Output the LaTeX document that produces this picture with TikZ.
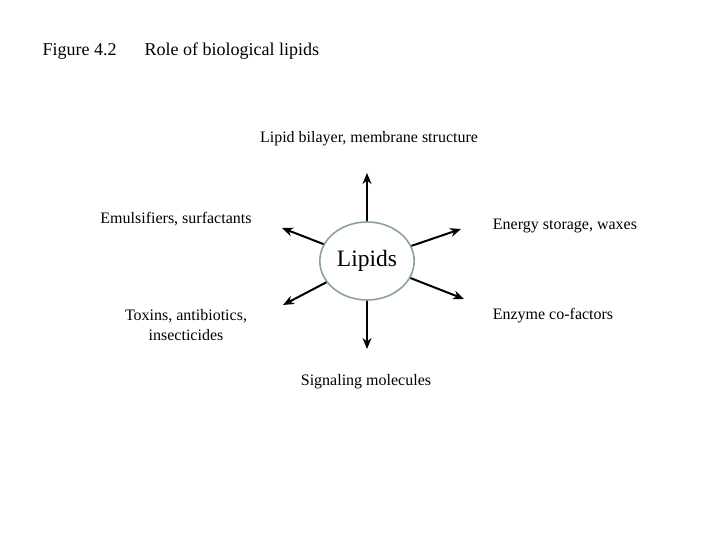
\documentclass[tikz,border=0pt]{standalone}
\usepackage{fontspec}
\setmainfont{Liberation Serif}
\usepackage{tikz}
\usetikzlibrary{shapes.geometric, arrows.meta}
\definecolor{rimgray}{RGB}{140,160,160}

\begin{document}
\begin{tikzpicture}[x=1pt, y=-1pt, every node/.style={font=\fontsize{16}{20}\selectfont}]
    \useasboundingbox (0,0) rectangle (720,540);
    % Title
    \node[anchor=west, font=\fontsize{18}{22}\selectfont] (fig) at (39,51) {Figure 4.2};
    \node[anchor=west, font=\fontsize{18}{22}\selectfont] (ttl) at (141,51) {Role of biological lipids};

    % Center
    \node[ellipse, draw=rimgray, line width=1.6pt, fill=white, minimum width=90pt, minimum height=78pt, font=\fontsize{23.5}{28}\selectfont] (lip) at (367,261) {Lipids};

    % Arrow ends
    \coordinate (up) at (367,173);
    \coordinate (dn) at (367,349);
    \coordinate (ul) at (282,228);
    \coordinate (ll) at (283,305);
    \coordinate (ur) at (461,229);
    \coordinate (lr) at (464,299);

    % Roles
    \node (bil) at (369,139) {Lipid bilayer, membrane structure};
    \node (emu) at (176,219) {Emulsifiers, surfactants};
    \node (ene) at (565,226) {Energy storage, waxes};
    \node[align=center] (tox) at (186,325) {Toxins, antibiotics,\\insecticides};
    \node (enz) at (553,316) {Enzyme co-factors};
    \node (sig) at (366,382) {Signaling molecules};

    % Connections
    \foreach \e in {up,dn,ul,ll,ur,lr} {
        \draw[-{Stealth[length=11pt,width=9pt]}, line width=2pt] (lip) -- (\e);
    }
\end{tikzpicture}
\end{document}
